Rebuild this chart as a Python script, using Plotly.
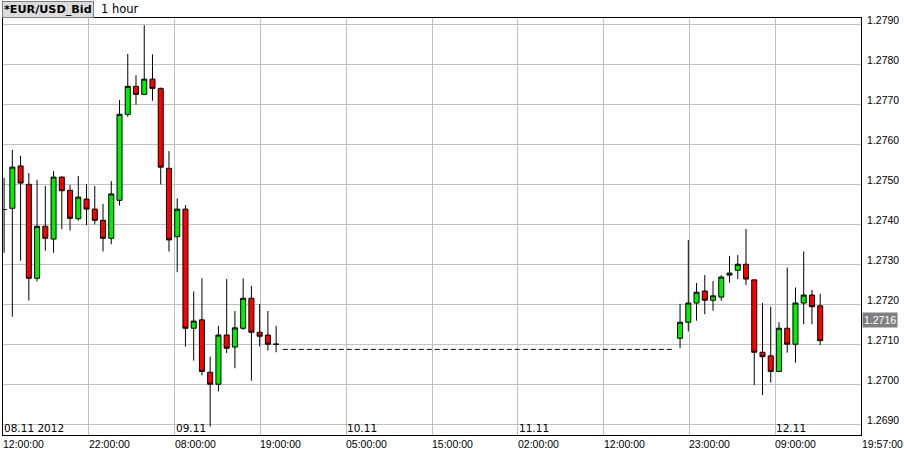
import plotly.graph_objects as go

# ---- data ----
times_left = [
    "2012-11-08 12:00", "2012-11-08 13:00", "2012-11-08 14:00", "2012-11-08 15:00",
    "2012-11-08 16:00", "2012-11-08 17:00", "2012-11-08 18:00", "2012-11-08 19:00",
    "2012-11-08 20:00", "2012-11-08 21:00", "2012-11-08 22:00", "2012-11-08 23:00",
    "2012-11-09 00:00", "2012-11-09 01:00", "2012-11-09 02:00", "2012-11-09 03:00",
    "2012-11-09 04:00", "2012-11-09 05:00", "2012-11-09 06:00", "2012-11-09 07:00",
    "2012-11-09 08:00", "2012-11-09 09:00", "2012-11-09 10:00", "2012-11-09 11:00",
    "2012-11-09 12:00", "2012-11-09 13:00", "2012-11-09 14:00", "2012-11-09 15:00",
    "2012-11-09 16:00", "2012-11-09 17:00", "2012-11-09 18:00", "2012-11-09 19:00",
    "2012-11-09 20:00", "2012-11-09 21:00",
]
open_left = [1.27437, 1.27440, 1.27546, 1.27500, 1.27265, 1.27395, 1.27363, 1.27518,
             1.27485, 1.27414, 1.27463, 1.27438, 1.27410, 1.27365, 1.27460, 1.27675,
             1.27745, 1.27725, 1.27763, 1.27740, 1.27540, 1.27369, 1.27438, 1.27140,
             1.27161, 1.27030, 1.27000, 1.27123, 1.27093, 1.27140, 1.27215, 1.27130,
             1.27123, 1.27100]
high_left = [1.27516, 1.27586, 1.27571, 1.27528, 1.27511, 1.27496, 1.27533, 1.27520,
             1.27498, 1.27521, 1.27500, 1.27496, 1.27451, 1.27508, 1.27711, 1.27826,
             1.27773, 1.27898, 1.27825, 1.27742, 1.27583, 1.27465, 1.27448, 1.27232,
             1.27265, 1.27069, 1.27146, 1.27263, 1.27183, 1.27265, 1.27246, 1.27201,
             1.27183, 1.27146]
low_left = [1.27329, 1.27169, 1.27309, 1.27209, 1.27257, 1.27334, 1.27329, 1.27388,
            1.27384, 1.27409, 1.27398, 1.27400, 1.27332, 1.27350, 1.27447, 1.27669,
            1.27699, 1.27725, 1.27709, 1.27500, 1.27332, 1.27280, 1.27094, 1.27059,
            1.27022, 1.26894, 1.26982, 1.27078, 1.27040, 1.27136, 1.27009, 1.27094,
            1.27084, 1.27080]
close_left = [1.27437, 1.27543, 1.27503, 1.27265, 1.27395, 1.27365, 1.27518, 1.27484,
              1.27415, 1.27468, 1.27438, 1.27410, 1.27365, 1.27476, 1.27675, 1.27745,
              1.27725, 1.27763, 1.27740, 1.27543, 1.27361, 1.27438, 1.27140, 1.27158,
              1.27032, 1.27000, 1.27123, 1.27090, 1.27141, 1.27215, 1.27130, 1.27120,
              1.27100, 1.27100]

times_right = [
    "2012-11-11 22:00", "2012-11-11 23:00", "2012-11-12 00:00", "2012-11-12 01:00",
    "2012-11-12 02:00", "2012-11-12 03:00", "2012-11-12 04:00", "2012-11-12 05:00",
    "2012-11-12 06:00", "2012-11-12 07:00", "2012-11-12 08:00", "2012-11-12 09:00",
    "2012-11-12 10:00", "2012-11-12 11:00", "2012-11-12 12:00", "2012-11-12 13:00",
    "2012-11-12 14:00", "2012-11-12 15:00",
]
open_right = [1.27115, 1.27155, 1.27203, 1.27233, 1.27210, 1.27218, 1.27273, 1.27285,
              1.27300, 1.27261, 1.27080, 1.27071, 1.27032, 1.27140, 1.27100, 1.27203,
              1.27223, 1.27196]
high_right = [1.27201, 1.27361, 1.27253, 1.27273, 1.27258, 1.27273, 1.27321, 1.27323,
              1.27388, 1.27261, 1.27203, 1.27194, 1.27155, 1.27292, 1.27242, 1.27332,
              1.27236, 1.27226]
low_right = [1.27090, 1.27132, 1.27159, 1.27175, 1.27184, 1.27209, 1.27254, 1.27263,
             1.27248, 1.26998, 1.26973, 1.27004, 1.27032, 1.27079, 1.27054, 1.27150,
             1.27150, 1.27098]
close_right = [1.27155, 1.27203, 1.27230, 1.27210, 1.27221, 1.27268, 1.27278, 1.27300,
               1.27263, 1.27080, 1.27069, 1.27032, 1.27140, 1.27100, 1.27203, 1.27223,
               1.27194, 1.27109]

weekend_times = ["2012-11-09 21:48", "2012-11-11 21:20"]
weekend_level = [1.270872, 1.270872]

current_bid = 1.2716
current_bid_text = "1.2716"

x_range = ["2012-11-08 11:52", "2012-11-12 19:57"]
y_range = [1.26873, 1.27916]

grid_times = ["2012-11-08 22:17", "2012-11-09 08:41", "2012-11-09 19:06",
              "2012-11-10 05:30", "2012-11-10 15:55", "2012-11-11 02:19",
              "2012-11-11 12:44", "2012-11-11 23:08", "2012-11-12 09:33"]
time_label_pos = ["2012-11-08 11:52"] + grid_times
time_labels = ["12:00:00", "22:00:00", "08:00:00", "19:00:00", "05:00:00",
               "15:00:00", "02:00:00", "12:00:00", "23:00:00", "09:00:00"]
end_time_label = "19:57:00"
date_label_pos = ["2012-11-08 11:52", "2012-11-09 08:41", "2012-11-10 05:30",
                  "2012-11-11 02:19", "2012-11-12 09:33"]
date_labels = ["08.11 2012", "09.11", "10.11", "11.11", "12.11"]

price_ticks = [1.2690, 1.2700, 1.2710, 1.2720, 1.2730, 1.2740, 1.2750,
               1.2760, 1.2770, 1.2780, 1.2790]
price_tick_text = ["1.2690", "1.2700", "1.2710", "1.2720", "1.2730", "1.2740",
                   "1.2750", "1.2760", "1.2770", "1.2780", "1.2790"]

title_text = "*EUR/USD_Bid"
period_text = "1 hour"

# ---- figure ----
GREEN = "#00f000"
RED = "#ff0000"
AXFONT = dict(family="Liberation Sans, Arial, sans-serif", size=10.5, color="black")

fig = go.Figure()

for t, o, h, l, c in [(times_left, open_left, high_left, low_left, close_left),
                      (times_right, open_right, high_right, low_right, close_right)]:
    fig.add_trace(go.Candlestick(
        x=t, open=o, high=h, low=l, close=c,
        increasing=dict(fillcolor=GREEN, line=dict(color="black", width=1)),
        decreasing=dict(fillcolor=RED, line=dict(color="black", width=1)),
        whiskerwidth=0, showlegend=False, hoverinfo="skip",
    ))

fig.add_trace(go.Scatter(
    x=weekend_times, y=weekend_level, mode="lines",
    line=dict(color="black", width=1, dash="5px,3px"),
    showlegend=False, hoverinfo="skip",
))

annotations = []
for pos, txt in zip(time_label_pos, time_labels):
    annotations.append(dict(x=pos, xref="x", y=0, yref="paper", text=txt,
                            xanchor="left", yanchor="top", showarrow=False,
                            font=AXFONT, yshift=-1, xshift=-2))
annotations.append(dict(x=1, xref="paper", y=0, yref="paper", text=end_time_label,
                        xanchor="left", yanchor="top", showarrow=False,
                        font=AXFONT, yshift=-1, xshift=-1))
for pos, txt in zip(date_label_pos, date_labels):
    annotations.append(dict(x=pos, xref="x", y=0, yref="paper", text=txt,
                            xanchor="left", yanchor="bottom", showarrow=False,
                            font=dict(family="DejaVu Sans, sans-serif", size=10.5,
                                      color="black"),
                            yshift=-1, xshift=-1))
annotations.append(dict(x=1, xref="paper", y=current_bid, yref="y",
                        text=current_bid_text, xanchor="left", yanchor="middle",
                        showarrow=False, bgcolor="#808080", borderpad=1,
                        font=dict(family="Liberation Sans, Arial, sans-serif",
                                  size=10.5, color="white"), xshift=1))
annotations.append(dict(x=0, xref="paper", y=1, yref="paper", text="<b>" + title_text + "</b>",
                        xanchor="left", yanchor="bottom", showarrow=False,
                        bgcolor="#dcdcdc", bordercolor="#808080", borderwidth=1,
                        borderpad=1,
                        font=dict(family="DejaVu Sans, sans-serif", size=11.2,
                                  color="black"), xshift=-1, yshift=0))
annotations.append(dict(x=0, xref="paper", y=1, yref="paper", text=period_text,
                        xanchor="left", yanchor="bottom", showarrow=False,
                        font=dict(family="DejaVu Sans, sans-serif", size=11.5,
                                  color="black"), xshift=96, yshift=0))

fig.update_layout(
    width=904, height=452,
    margin=dict(l=3, r=43, t=18, b=17, autoexpand=False),
    paper_bgcolor="white", plot_bgcolor="white",
    boxgap=0.13,
    showlegend=False,
    annotations=annotations,
    xaxis=dict(
        type="date", range=x_range, rangeslider=dict(visible=False),
        tickmode="array", tickvals=grid_times, showticklabels=False,
        showgrid=True, gridcolor="#c0c0c0", gridwidth=1,
        showline=True, mirror=True, linecolor="black", linewidth=1,
        zeroline=False, ticks="", automargin=False,
    ),
    yaxis=dict(
        range=y_range, side="right",
        tickmode="array", tickvals=price_ticks, ticktext=price_tick_text,
        tickfont=AXFONT, ticklabelstandoff=3, ticklabelshift=-4,
        showgrid=True, gridcolor="#c0c0c0", gridwidth=1,
        showline=True, mirror=True, linecolor="black", linewidth=1,
        zeroline=False, ticks="", automargin=False,
    ),
)

fig.write_html("out.html", config={"displayModeBar": False},
               post_script="document.body.style.margin='0px';"
                           "document.body.style.overflow='hidden';")
